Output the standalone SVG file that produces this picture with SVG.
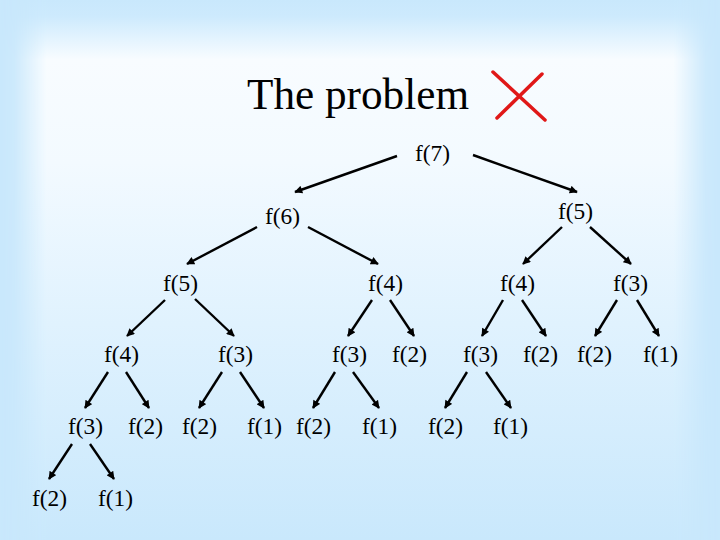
<svg xmlns="http://www.w3.org/2000/svg" width="720" height="540" viewBox="0 0 720 540">
  <defs>
    <linearGradient id="vg" x1="0" y1="0" x2="0" y2="1">
      <stop offset="0" stop-color="#c9e8fc"/>
      <stop offset="0.03" stop-color="#cdeafd"/>
      <stop offset="0.11" stop-color="#f8fcff"/>
      <stop offset="0.3" stop-color="#f3faff"/>
      <stop offset="0.6" stop-color="#e0f2fe"/>
      <stop offset="1" stop-color="#c9e8fc"/>
    </linearGradient>
    <linearGradient id="hg" x1="0" y1="0" x2="1" y2="0">
      <stop offset="0" stop-color="#fff" stop-opacity="0"/>
      <stop offset="0.02" stop-color="#fff" stop-opacity="0.1"/>
      <stop offset="0.065" stop-color="#fff" stop-opacity="1"/>
      <stop offset="0.935" stop-color="#fff" stop-opacity="1"/>
      <stop offset="0.98" stop-color="#fff" stop-opacity="0.1"/>
      <stop offset="1" stop-color="#fff" stop-opacity="0"/>
    </linearGradient>
    <mask id="sideMask" maskUnits="userSpaceOnUse" x="0" y="0" width="720" height="540">
      <rect x="0" y="0" width="720" height="540" fill="url(#hg)"/>
    </mask>
    <marker id="arr" markerUnits="userSpaceOnUse" viewBox="0 0 10 10" refX="9" refY="5" markerWidth="9" markerHeight="8" orient="auto">
      <path d="M0,0 L10,5 L0,10 Z" fill="#000"/>
    </marker>
    <style>
      .lbl { font-family: "Liberation Serif", "Times New Roman", serif; font-size: 23px; fill: #000; }
      .title { font-family: "Liberation Serif", "Times New Roman", serif; font-size: 45px; fill: #000; }
      .edge { stroke: #000; stroke-width: 2.4; fill: none; marker-end: url(#arr); }
      .cross { stroke: #e01818; stroke-width: 3.5; stroke-linecap: round; }
    </style>
  </defs>

  <g id="background">
    <rect x="0" y="0" width="720" height="540" fill="#c9e8fc"/>
    <rect x="0" y="0" width="720" height="540" fill="url(#vg)" mask="url(#sideMask)"/>
  </g>

  <g id="title">
    <text class="title" x="247" y="109" textLength="222" lengthAdjust="spacingAndGlyphs">The problem</text>
    <line class="cross" x1="493" y1="72" x2="545" y2="120"/>
    <line class="cross" x1="542" y1="74" x2="497" y2="118"/>
  </g>

  <g id="connectors">
    <line class="edge" x1="397" y1="156" x2="295" y2="192"/>
    <line class="edge" x1="473" y1="155" x2="577" y2="192"/>
    <line class="edge" x1="257" y1="227" x2="187" y2="264"/>
    <line class="edge" x1="308" y1="227" x2="378" y2="264"/>
    <line class="edge" x1="562" y1="227" x2="523" y2="264"/>
    <line class="edge" x1="590" y1="227" x2="631" y2="264"/>
    <line class="edge" x1="165" y1="300" x2="127" y2="336"/>
    <line class="edge" x1="195" y1="299" x2="234" y2="336"/>
    <line class="edge" x1="372" y1="300" x2="348" y2="336"/>
    <line class="edge" x1="390" y1="300" x2="414" y2="336"/>
    <line class="edge" x1="503" y1="300" x2="482" y2="336"/>
    <line class="edge" x1="522" y1="300" x2="546" y2="336"/>
    <line class="edge" x1="617" y1="300" x2="595" y2="336"/>
    <line class="edge" x1="637" y1="300" x2="659" y2="336"/>
    <line class="edge" x1="108" y1="372" x2="85" y2="408"/>
    <line class="edge" x1="126" y1="372" x2="149" y2="408"/>
    <line class="edge" x1="222" y1="372" x2="199" y2="408"/>
    <line class="edge" x1="240" y1="372" x2="264" y2="408"/>
    <line class="edge" x1="335" y1="372" x2="313" y2="408"/>
    <line class="edge" x1="353" y1="372" x2="379" y2="408"/>
    <line class="edge" x1="467" y1="372" x2="445" y2="408"/>
    <line class="edge" x1="486" y1="372" x2="511" y2="408"/>
    <line class="edge" x1="72" y1="444" x2="49" y2="479"/>
    <line class="edge" x1="90" y1="444" x2="114" y2="479"/>
  </g>

  <g id="n7"><text class="lbl" x="415" y="161" textLength="35" lengthAdjust="spacingAndGlyphs">f(7)</text></g>
  <g id="n6"><text class="lbl" x="265" y="224" textLength="35" lengthAdjust="spacingAndGlyphs">f(6)</text></g>
  <g id="n5b"><text class="lbl" x="558" y="219" textLength="35" lengthAdjust="spacingAndGlyphs">f(5)</text></g>

  <g id="n5a"><text class="lbl" x="163" y="291" textLength="35" lengthAdjust="spacingAndGlyphs">f(5)</text></g>
  <g id="n4a"><text class="lbl" x="368" y="291" textLength="35" lengthAdjust="spacingAndGlyphs">f(4)</text></g>
  <g id="n4b"><text class="lbl" x="500" y="291" textLength="35" lengthAdjust="spacingAndGlyphs">f(4)</text></g>
  <g id="n3a"><text class="lbl" x="613" y="291" textLength="35" lengthAdjust="spacingAndGlyphs">f(3)</text></g>

  <g id="n4c"><text class="lbl" x="104" y="362" textLength="35" lengthAdjust="spacingAndGlyphs">f(4)</text></g>
  <g id="n3b"><text class="lbl" x="218" y="362" textLength="35" lengthAdjust="spacingAndGlyphs">f(3)</text></g>
  <g id="n3c"><text class="lbl" x="332" y="362" textLength="35" lengthAdjust="spacingAndGlyphs">f(3)</text></g>
  <g id="n2a"><text class="lbl" x="392" y="362" textLength="35" lengthAdjust="spacingAndGlyphs">f(2)</text></g>
  <g id="n3d"><text class="lbl" x="463" y="362" textLength="35" lengthAdjust="spacingAndGlyphs">f(3)</text></g>
  <g id="n2b"><text class="lbl" x="523" y="362" textLength="35" lengthAdjust="spacingAndGlyphs">f(2)</text></g>
  <g id="n2c"><text class="lbl" x="577" y="362" textLength="35" lengthAdjust="spacingAndGlyphs">f(2)</text></g>
  <g id="n1a"><text class="lbl" x="643" y="362" textLength="35" lengthAdjust="spacingAndGlyphs">f(1)</text></g>

  <g id="n3e"><text class="lbl" x="68" y="434" textLength="35" lengthAdjust="spacingAndGlyphs">f(3)</text></g>
  <g id="n2d"><text class="lbl" x="128" y="434" textLength="35" lengthAdjust="spacingAndGlyphs">f(2)</text></g>
  <g id="n2e"><text class="lbl" x="182" y="434" textLength="35" lengthAdjust="spacingAndGlyphs">f(2)</text></g>
  <g id="n1b"><text class="lbl" x="247" y="434" textLength="35" lengthAdjust="spacingAndGlyphs">f(1)</text></g>
  <g id="n2f"><text class="lbl" x="296" y="434" textLength="35" lengthAdjust="spacingAndGlyphs">f(2)</text></g>
  <g id="n1c"><text class="lbl" x="362" y="434" textLength="35" lengthAdjust="spacingAndGlyphs">f(1)</text></g>
  <g id="n2g"><text class="lbl" x="428" y="434" textLength="35" lengthAdjust="spacingAndGlyphs">f(2)</text></g>
  <g id="n1d"><text class="lbl" x="493" y="434" textLength="35" lengthAdjust="spacingAndGlyphs">f(1)</text></g>

  <g id="n2h"><text class="lbl" x="32" y="506" textLength="35" lengthAdjust="spacingAndGlyphs">f(2)</text></g>
  <g id="n1e"><text class="lbl" x="98" y="506" textLength="35" lengthAdjust="spacingAndGlyphs">f(1)</text></g>
</svg>
